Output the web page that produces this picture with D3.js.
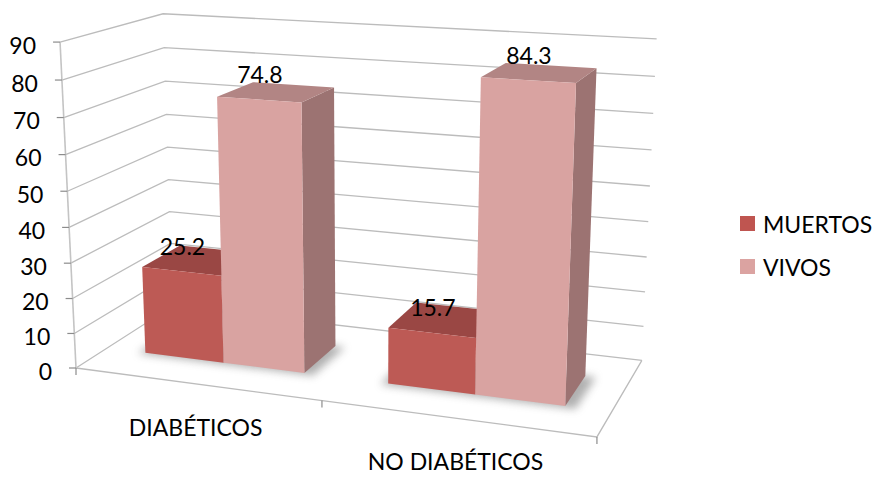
<!DOCTYPE html>
<html>
<head>
<meta charset="utf-8">
<script src="https://cdn.jsdelivr.net/npm/d3@7"></script>
<style>
  html, body { margin: 0; padding: 0; background: #ffffff; }
  svg { display: block; font-family: Lato, "Open Sans", sans-serif; }
</style>
</head>
<body>
<svg id="chart" width="873" height="477"></svg>
<script>
// ---- data ----
const categories = ["DIABÉTICOS", "NO DIABÉTICOS"];
const seriesNames = ["MUERTOS", "VIVOS"];
const muertos = [25.2, 15.7];
const vivos = [74.8, 84.3];
const yTicks = [0, 10, 20, 30, 40, 50, 60, 70, 80, 90];

// ---- styles ----
const faceColors = {
  MUERTOS: { front: "#bd5a55", top: "#9a4744", side: "#8c3f3c", key: "#bf5550" },
  VIVOS:   { front: "#d9a3a1", top: "#b28584", side: "#9c7372", key: "#dba3a1" }
};
const gridColor = "#bcbcbc";
const tickColor = "#8c8c8c";
const fontSize = 23;

// ---- 3D view ----
// World space: x = category axis [0,1], y = value axis [0,1], z = depth [0,1] (front -> back).
// Projective camera (3x4) mapping homogeneous world points to screen pixels.
const camera = [
  [457.9,  -19.06, 117.24,  76],
  [22.81, -328.1,  -25.2,  368],
  [-0.1056, -0.0518, 0.12,   1]
];
function project(x, y, z) {
  const p = [x, y, z, 1];
  const r = camera.map(row => row.reduce((s, v, i) => s + v * p[i], 0));
  return [r[0] / r[2], r[1] / r[2]];
}
const poly = pts => "M" + pts.map(p => p.join(",")).join("L") + "Z";
const line = pts => "M" + pts.map(p => p.join(",")).join("L");

// ---- scales ----
const xCat = d3.scaleBand().domain(categories).range([0, 1]);
const xSeries = d3.scaleBand().domain(seriesNames).range([0, xCat.bandwidth()])
  .paddingInner(0).paddingOuter(0.5);
const yVal = d3.scaleLinear().domain([0, 90]).range([0, 1]);
const zBar = [0.3, 0.7];

const svg = d3.select("#chart");

// ---- walls: gridlines run along the side wall then across the back wall ----
const grid = svg.append("g").attr("fill", "none").attr("stroke", gridColor).attr("stroke-width", 1.3);
yTicks.forEach(t => {
  const y = yVal(t);
  grid.append("path").attr("d", line([project(0, y, 0), project(0, y, 1), project(1, y, 1)]));
});
// floor outline (front and right edges)
grid.append("path").attr("d", line([project(0, 0, 0), project(1, 0, 0), project(1, 0, 1)]));

// ---- value axis ----
const axis = svg.append("g");
axis.append("path").attr("d", line([project(0, 0, 0), project(0, 1, 0)]))
  .attr("stroke", "#c4c4c4").attr("stroke-width", 1.6).attr("fill", "none");
yTicks.forEach(t => {
  const [px, py] = project(0, yVal(t), 0);
  axis.append("line").attr("x1", px - 7).attr("x2", px).attr("y1", py).attr("y2", py)
    .attr("stroke", tickColor).attr("stroke-width", 1.2);
  axis.append("text").attr("x", px - 24).attr("y", py + 11.5)
    .attr("text-anchor", "end").attr("font-size", fontSize).attr("fill", "#000")
    .text(t);
});

// ---- category axis ticks and labels ----
[0, 1].concat(categories.slice(1).map(c => xCat(c))).forEach(x => {
  const [px, py] = project(x, 0, 0);
  axis.append("line").attr("x1", px).attr("x2", px).attr("y1", py).attr("y2", py + 7)
    .attr("stroke", tickColor).attr("stroke-width", 1.2);
});
categories.forEach(c => {
  const [px, py] = project(xCat(c) + xCat.bandwidth() / 2, 0, 0);
  axis.append("text").attr("x", px).attr("y", py + 52)
    .attr("text-anchor", "middle").attr("font-size", fontSize).attr("fill", "#000")
    .text(c);
});

// ---- bars ----
const defs = svg.append("defs");
defs.append("filter").attr("id", "soft").attr("x", "-50%").attr("y", "-50%")
  .attr("width", "200%").attr("height", "200%")
  .append("feGaussianBlur").attr("stdDeviation", 4);

const bars = [];
categories.forEach((c, i) => {
  [["MUERTOS", muertos[i]], ["VIVOS", vivos[i]]].forEach(([s, v]) => {
    const x0 = xCat(c) + xSeries(s);
    bars.push({ cat: c, series: s, value: v, x0, x1: x0 + xSeries.bandwidth() });
  });
});

// soft floor shadows under each bar
const shadows = svg.append("g").attr("filter", "url(#soft)").attr("fill", "#6e6e6e").attr("opacity", 0.55);
bars.forEach(b => {
  shadows.append("path").attr("d", poly([
    project(b.x0 - 0.012, 0, zBar[0] - 0.02), project(b.x1 + 0.02, 0, zBar[0] - 0.02),
    project(b.x1 + 0.02, 0, zBar[1]), project(b.x0 - 0.012, 0, zBar[1])
  ]));
});

const barG = svg.append("g");
bars.forEach(b => {
  const h = yVal(b.value), [z0, z1] = zBar, col = faceColors[b.series];
  const g = barG.append("g");
  // right side face
  g.append("path").attr("fill", col.side).attr("d", poly([
    project(b.x1, 0, z0), project(b.x1, 0, z1), project(b.x1, h, z1), project(b.x1, h, z0)
  ]));
  // top face
  g.append("path").attr("fill", col.top).attr("d", poly([
    project(b.x0, h, z0), project(b.x1, h, z0), project(b.x1, h, z1), project(b.x0, h, z1)
  ]));
  // front face
  g.append("path").attr("fill", col.front).attr("d", poly([
    project(b.x0, 0, z0), project(b.x1, 0, z0), project(b.x1, h, z0), project(b.x0, h, z0)
  ]));
});

// ---- value labels above the front top edge of each bar ----
bars.forEach(b => {
  const [px, py] = project((b.x0 + b.x1) / 2, yVal(b.value), zBar[0]);
  svg.append("text").attr("x", px + 1).attr("y", py - 16.5)
    .attr("text-anchor", "middle").attr("font-size", fontSize).attr("fill", "#000")
    .text(b.value.toFixed(1));
});

// ---- legend ----
const legend = svg.append("g").attr("transform", "translate(740,216)");
seriesNames.forEach((s, i) => {
  const row = legend.append("g").attr("transform", `translate(0,${i * 43})`);
  row.append("rect").attr("width", 15).attr("height", 15).attr("fill", faceColors[s].key);
  row.append("text").attr("x", 23).attr("y", 16.5).attr("font-size", fontSize).attr("fill", "#000").text(s);
});
</script>
</body>
</html>
